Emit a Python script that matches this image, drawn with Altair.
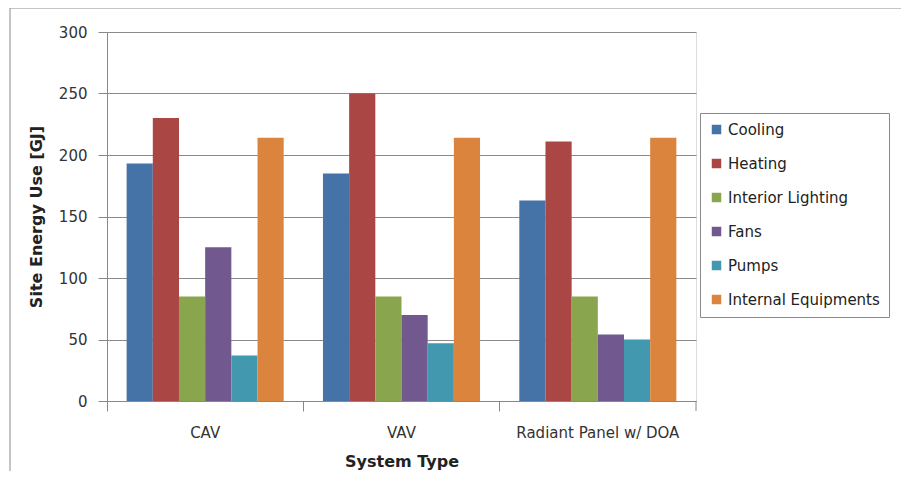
import altair as alt
import pandas as pd

systems = ["CAV", "VAV", "Radiant Panel w/ DOA"]
categories = ["Cooling", "Heating", "Interior Lighting", "Fans", "Pumps", "Internal Equipments"]
colors = ["#4572A7", "#AA4643", "#89A54E", "#71588F", "#4198AF", "#DB843D"]

cooling = [193, 185, 163]
heating = [230, 250, 211]
lighting = [85, 85, 85]
fans = [125, 70, 54]
pumps = [37, 47, 50]
equipment = [214, 214, 214]

series = [cooling, heating, lighting, fans, pumps, equipment]
rows = []
for cat, vals in zip(categories, series):
    for s, v in zip(systems, vals):
        rows.append({"System": s, "Use": cat, "Energy": v})
df = pd.DataFrame(rows)

W, H = 589, 369
FONT = "DejaVu Sans"

frame = alt.Chart(pd.DataFrame({"a": [0]})).mark_rect(
    fill="transparent", stroke="#8a8a8a", strokeWidth=1
).encode(
    x=alt.value(-97), x2=alt.value(W + 400),
    y=alt.value(-24), y2=alt.value(H + 200),
)

bars = alt.Chart(df).mark_bar().encode(
    x=alt.X("System:N", sort=systems,
            scale=alt.Scale(paddingInner=0, paddingOuter=0),
            axis=alt.Axis(title="System Type", bandPosition=0, labelAngle=0,
                          tickSize=10, labelPadding=14, titlePadding=13,
                          labelFontSize=15, labelColor="#333333", labelFontWeight="normal",
                          titleFontSize=16, titleFontWeight="bold", titleColor="#222222",
                          domainColor="#888888", tickColor="#888888",
                          labelFont=FONT, titleFont=FONT)),
    xOffset=alt.XOffset("Use:N", sort=categories,
                        scale=alt.Scale(paddingInner=0, paddingOuter=0.75)),
    y=alt.Y("Energy:Q", scale=alt.Scale(domain=[0, 300]),
            axis=alt.Axis(title="Site Energy Use [GJ]", values=[0, 50, 100, 150, 200, 250, 300],
                          tickSize=9, labelPadding=11, titlePadding=14,
                          labelFontSize=15, labelColor="#333333",
                          titleFontSize=16, titleFontWeight="bold", titleColor="#222222",
                          grid=True, gridColor="#8a8a8a", domainColor="#888888", tickColor="#888888",
                          labelFont=FONT, titleFont=FONT)),
    color=alt.Color("Use:N", sort=categories,
                    scale=alt.Scale(domain=categories, range=colors),
                    legend=alt.Legend(title=None, orient="none", legendX=593, legendY=81,
                                      symbolType="square", symbolSize=90, symbolStrokeWidth=0,
                                      labelFontSize=15, labelFont=FONT, labelColor="#222222",
                                      rowPadding=18, padding=9, strokeColor="#8a8a8a",
                                      fillColor="white", labelLimit=300)),
)

endtick = alt.Chart(pd.DataFrame({"a": [0]})).mark_rule(color="#888888").encode(
    x=alt.value(W), y=alt.value(H), y2=alt.value(H + 10)
)

chart = alt.layer(frame, bars, endtick).properties(
    width=W, height=H,
    autosize=alt.AutoSizeParams(type="none"),
    padding={"left": 99, "top": 24, "right": 205, "bottom": 70},
).configure_view(stroke="transparent", strokeWidth=0).configure(background="white")

chart.save("out.html", embed_options={"renderer": "svg", "actions": False})
